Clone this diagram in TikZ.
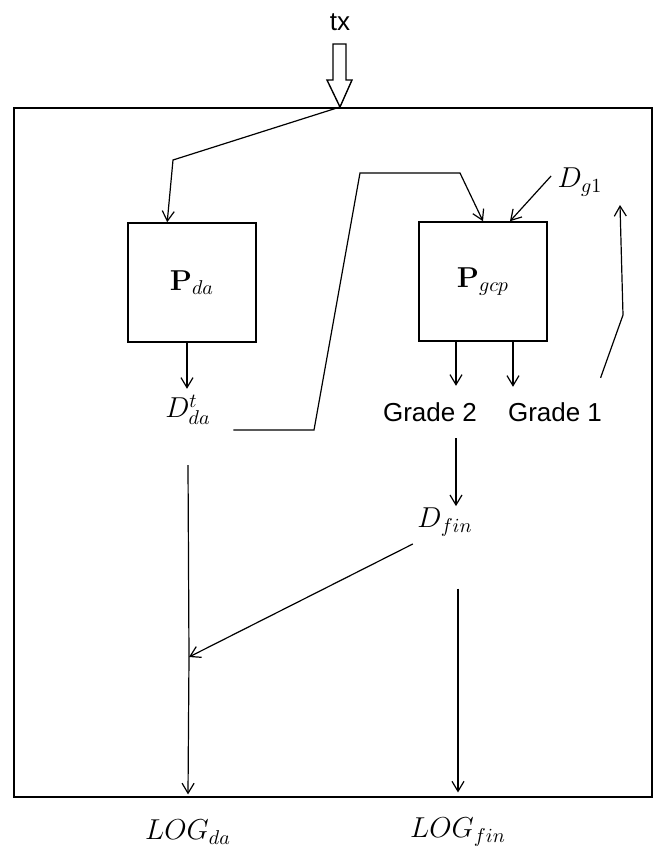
\documentclass[tikz,border=0pt]{standalone}
\usepackage[no-math]{fontspec}
\usetikzlibrary{positioning,arrows.meta,calc}
\newfontfamily\gradefont{Liberation Sans}

\begin{document}
\begin{tikzpicture}[x=0.5pt,y=-0.5pt,line width=0.6pt,
  proc/.style={draw,line width=0.8pt,minimum width=64pt,minimum height=59.5pt,inner sep=0pt,font=\fontsize{14}{16}\selectfont},
  lbl/.style={inner sep=1pt,font=\fontsize{14}{16}\selectfont},
  txt/.style={inner sep=1pt,font=\gradefont\fontsize{13}{15}\selectfont},
  >={Straight Barb[length=5pt,width=6pt]}]
\useasboundingbox (0,0) rectangle (653,853);
% frame and input
\draw[line width=1pt] (14,108) rectangle (652,797);
\node[txt] (tx) at (340,22) {tx};
\coordinate (tip) at (340,107);
\draw[line width=0.7pt] (333,44) -- (346,44) -- (346,80) -- (352,80) -- (tip) -- (327,80) -- (333,80) -- cycle;
% processes
\node[proc] (pda) at (192,282.5) {$\mathbf{P}_{da}$};
\node[proc] (pgcp) at (483,281.5) {$\mathbf{P}_{gcp}$};
\node[lbl] (dtda) at (188,410) {$D^{t}_{da}$};
\node[lbl] (dg1) at (580,182) {$D_{g1}$};
\node[txt] (gr2) at (430,412) {Grade 2};
\node[txt] (gr1) at (555,412) {Grade 1};
\node[lbl] (dfin) at (445,522) {$D_{fin}$};
\node[lbl] (logda) at (188,832) {$LOG_{da}$};
\node[lbl] (logfin) at (458,832) {$LOG_{fin}$};
% connectors
\draw[->] (tip) -- (173,160) -- ($(pda.north west)+(40,0)$);
\draw[->] ($(pda.south)+(-5,0)$) -- ($(pda.south)+(-5,46)$);
\draw[->] ($(dtda.east)+(20,20)$) -- (314,430) -- (360,173) -- (460,173) -- (pgcp.north);
\draw[->] ($(dg1.west)+(-4,-6)$) -- ($(pgcp.north)+(27,0)$);
\draw[->] ($(pgcp.south)+(-27,0)$) -- ($(pgcp.south)+(-27,44)$);
\draw[->] ($(pgcp.south)+(30,0)$) -- ($(pgcp.south)+(30,45)$);
\draw[->] ($(gr1.north east)+(-4,-22)$) -- (623,315) -- (620,205);
\draw[->] ($(gr2.south)+(26,14)$) -- ($(gr2.south)+(26,82)$);
\coordinate (join) at (189,657);
\draw[->] ($(dfin.west)+(-2,22)$) -- (join);
\draw[->] (188,465) -- (join) -- ($(logda.north)+(0,-23)$);
\draw[->] ($(dfin.south)+(13,50)$) -- ($(logfin.north)+(0,-23)$);
\end{tikzpicture}
\end{document}
